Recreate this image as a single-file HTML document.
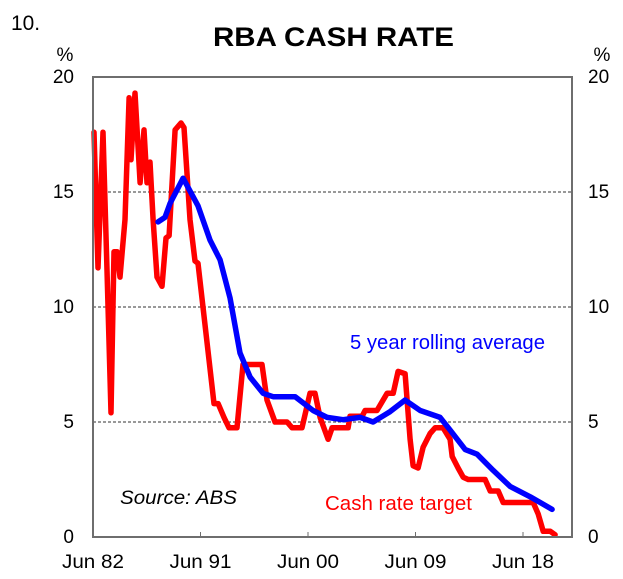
<!DOCTYPE html>
<html><head><meta charset="utf-8"><style>
html,body{margin:0;padding:0;background:#fff;}
svg text{font-family:"Liberation Sans",Arial,sans-serif;}
</style></head><body>
<svg id="chart" width="623" height="574" viewBox="0 0 623 574" xmlns="http://www.w3.org/2000/svg">
<text x="11" y="30" font-size="21" textLength="29" lengthAdjust="spacingAndGlyphs">10.</text>
<text x="213" y="46" font-size="27" font-weight="bold" textLength="241" lengthAdjust="spacingAndGlyphs">RBA CASH RATE</text>
<text x="65" y="61" font-size="19" text-anchor="middle">%</text>
<text x="602" y="61" font-size="19" text-anchor="middle">%</text>
<g id="grid"></g>
<g id="ylabels"></g>
<g id="xlabels"></g>
<g id="series"></g>
<rect x="93" y="77" width="479" height="460" fill="none" stroke="#6e6e6e" stroke-width="2"/>
<text x="120" y="504" font-size="19" font-style="italic" textLength="117" lengthAdjust="spacingAndGlyphs">Source: ABS</text>
<text x="350" y="349" font-size="20" fill="#0000ff" textLength="195" lengthAdjust="spacingAndGlyphs">5 year rolling average</text>
<text x="325" y="510" font-size="20" fill="#ff0000" textLength="147" lengthAdjust="spacingAndGlyphs">Cash rate target</text>
</svg>
<script>
const yTicks = [0, 5, 10, 15, 20];
const xTickYears = [1982.5, 1991.5, 2000.5, 2009.5, 2018.5];
const xTickLabels = ["Jun 82", "Jun 91", "Jun 00", "Jun 09", "Jun 18"];
const cashYears = [1982.58,1982.92,1983.34,1983.67,1984.01,1984.26,1984.51,1984.76,1985.18,1985.52,1985.68,1986.02,1986.44,1986.77,1987.02,1987.27,1987.53,1987.86,1988.28,1988.61,1988.87,1989.37,1989.87,1990.12,1990.62,1991.04,1991.29,1992.63,1992.97,1993.47,1993.89,1994.56,1995.06,1996.65,1997.07,1997.74,1998.75,1999.17,2000.0,2000.67,2001.09,2001.51,2002.18,2002.52,2003.86,2004.02,2005.03,2005.28,2006.28,2007.12,2007.63,2008.04,2008.63,2009.05,2009.30,2009.72,2010.14,2010.72,2011.14,2011.81,2012.40,2012.57,2013.07,2013.49,2013.91,2015.33,2015.75,2016.42,2016.84,2019.35,2019.77,2020.19,2020.78,2021.19];
const cashValues = [17.6,11.7,17.6,11.6,5.4,12.4,12.4,11.3,13.8,19.1,16.4,19.3,15.4,17.7,15.4,16.3,13.8,11.3,10.9,13.0,13.1,17.7,18.0,17.8,13.8,12.0,11.9,5.8,5.8,5.2,4.75,4.75,7.5,7.5,5.95,5.0,5.0,4.75,4.75,6.25,6.25,5.2,4.25,4.75,4.75,5.25,5.25,5.5,5.5,6.25,6.25,7.2,7.1,4.25,3.1,3.0,3.9,4.5,4.75,4.75,4.25,3.5,3.0,2.6,2.5,2.5,2.0,2.0,1.5,1.5,1.0,0.25,0.25,0.1];
const avgYears = [1987.94,1988.53,1988.95,1990.04,1991.29,1992.30,1993.14,1993.97,1994.81,1995.65,1996.74,1997.58,1999.42,2000.93,2002.1,2003.44,2004.86,2005.95,2007.37,2008.63,2009.89,2011.56,2012.40,2013.66,2014.66,2016.0,2017.42,2019.1,2019.94,2020.94];
const avgValues = [13.7,13.9,14.5,15.6,14.4,12.9,12.05,10.4,8.0,6.95,6.25,6.1,6.1,5.5,5.2,5.1,5.2,5.0,5.45,5.95,5.5,5.2,4.65,3.8,3.6,2.9,2.2,1.75,1.5,1.2];

const NS = "http://www.w3.org/2000/svg";
const X0 = 93, X1 = 572, Y0 = 537, Y1 = 77;
function xScale(t){ return X0 + (t - 1982.5) * (107.5 / 9); }
function yScale(v){ return Y0 - v * (Y0 - Y1) / 20; }
function mk(tag, attrs, parent){ const e = document.createElementNS(NS, tag); for (const k in attrs) e.setAttribute(k, attrs[k]); parent.appendChild(e); return e; }

const grid = document.getElementById('grid');
const yl = document.getElementById('ylabels');
yTicks.forEach(v => {
  const y = yScale(v);
  if (v > 0 && v < 20) {
    const g = mk('line', {x1: X0, x2: X1, y1: y, y2: y, stroke: '#333', 'stroke-width': 1, 'stroke-dasharray': '3,2'}, grid);
    
    
  }
  const t1 = mk('text', {x: 74, y: y + 6, 'font-size': 19, 'text-anchor': 'end'}, yl);
  t1.textContent = v;
  
  
  const t2 = mk('text', {x: 588, y: y + 6, 'font-size': 19, 'text-anchor': 'start'}, yl);
  t2.textContent = v;
  
  
});
const xl = document.getElementById('xlabels');
xTickYears.forEach((t, i) => {
  const x = xScale(t);
  const tk = mk('line', {x1: x, x2: x, y1: Y0, y2: Y0 - 5, stroke: '#6e6e6e', 'stroke-width': 1}, xl);
  
  
  const lb = mk('text', {x: x - 31, y: 568, 'font-size': 19, textLength: 62, lengthAdjust: 'spacingAndGlyphs'}, xl);
  lb.textContent = xTickLabels[i];
  
  
});
const s = document.getElementById('series');
function line(xs, vs, color, name){
  const d = xs.map((t, i) => (i ? 'L' : 'M') + xScale(t).toFixed(1) + ' ' + yScale(vs[i]).toFixed(1)).join(' ');
  const p = mk('path', {d: d, fill: 'none', stroke: color, 'stroke-width': 5.5, 'stroke-linejoin': 'round', 'stroke-linecap': 'round'}, s);
  
  
}
line(cashYears, cashValues, '#ff0000', 'cash-rate-target-line');
line(avgYears, avgValues, '#0000ff', 'rolling-average-line');
</script>
</body></html>
